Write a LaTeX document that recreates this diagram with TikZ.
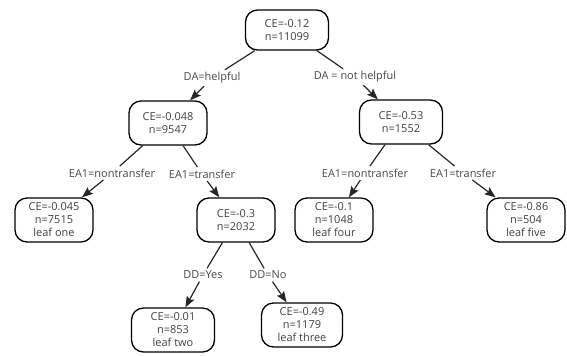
\documentclass[tikz,border=0pt]{standalone}
\usepackage{fontspec}
\setmainfont{Open Sans}
\usepackage{tikz}
\usetikzlibrary{arrows.meta, positioning, calc}
\tikzset{every node/.style={font=\fontsize{11}{13}\selectfont}}
\colorlet{boxline}{black}
\colorlet{boxtext}{black!75}
\colorlet{splitlabel}{black!72}
\colorlet{edgecol}{black!85}
\tikzset{
  treenode/.style={draw=boxline, line width=1.3bp, rounded corners=12bp,
    align=center, text=boxtext, minimum width=78bp, minimum height=44bp, inner sep=2bp},
  splitlbl/.style={text=splitlabel, inner sep=2.5bp},
  edge/.style={edgecol, line width=1.2bp}
}

\begin{document}
\begin{tikzpicture}[x=1bp, y=-1bp, >={Stealth[length=11bp, width=8.5bp, inset=2bp]}]
\useasboundingbox (0,0) rectangle (567,355);

% Root
\node[treenode, minimum width=83bp, minimum height=40bp] (root) at (287,30) {CE=-0.12\\n=11099};

% First split
\node[treenode] (n2) at (168,123) {CE=-0.048\\n=9547};
\node[treenode, minimum width=83bp] (n3) at (401,122) {CE=-0.53\\n=1552};
\node[splitlbl] (lhelp) at (212,78) {DA=helpful};
\node[splitlbl] (lnothelp) at (355,77) {DA = not helpful};

% Second split
\node[treenode] (leafone) at (54,220) {CE=-0.045\\n=7515\\leaf one};
\node[treenode] (n4) at (236,220) {CE=-0.3\\n=2032};
\node[treenode] (leaffour) at (334,220) {CE=-0.1\\n=1048\\leaf four};
\node[treenode] (leaffive) at (526,220) {CE=-0.86\\n=504\\leaf five};
\node[splitlbl] (lnontr1) at (112,173) {EA1=nontransfer};
\node[splitlbl] (ltr1) at (202,174) {EA1=transfer};
\node[splitlbl] (lnontr2) at (365,173) {EA1=nontransfer};
\node[splitlbl] (ltr2) at (463,173) {EA1=transfer};

% Third split
\node[treenode, minimum width=83bp] (leaftwo) at (173,330) {CE=-0.01\\n=853\\leaf two};
\node[treenode, minimum width=81bp] (leafthree) at (302,325) {CE=-0.49\\n=1179\\leaf three};
\node[splitlbl] (lyes) at (203,275) {DD=Yes};
\node[splitlbl] (lno) at (268,275) {DD=No};

% Edges
\draw[edge] (root) -- (lhelp);
\draw[edge, ->] (lhelp) -- (n2);
\draw[edge] (root) -- (lnothelp);
\draw[edge, ->] (lnothelp) -- (n3);
\draw[edge] (n2) -- (lnontr1);
\draw[edge, ->] (lnontr1) -- (leafone);
\draw[edge] (n2) -- (ltr1);
\draw[edge, ->] (ltr1) -- (n4);
\draw[edge] (n3) -- (lnontr2);
\draw[edge, ->] (lnontr2) -- (leaffour);
\draw[edge] (n3) -- (ltr2);
\draw[edge, ->] (ltr2) -- (leaffive);
\draw[edge] (n4) -- (lyes);
\draw[edge, ->] (lyes) -- (leaftwo);
\draw[edge] (n4) -- (lno);
\draw[edge, ->] (lno) -- (leafthree);

\end{tikzpicture}
\end{document}
